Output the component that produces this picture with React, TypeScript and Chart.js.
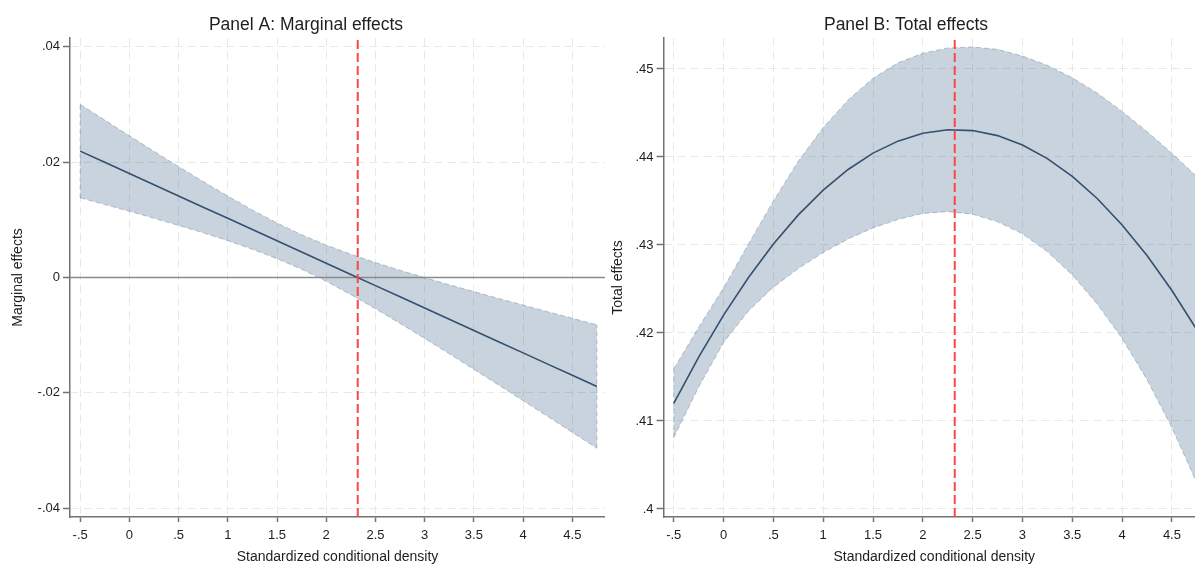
import React, { useEffect, useRef } from "react";
import { Chart, registerables } from "chart.js";

Chart.register(...registerables);

// ---------- data ----------
const xGrid = [
  -0.5, -0.25, 0, 0.25, 0.5, 0.75, 1, 1.25, 1.5, 1.75, 2, 2.25, 2.5, 2.75, 3,
  3.25, 3.5, 3.75, 4, 4.25, 4.5, 4.75,
];

const marginalCenter = [
  0.0219, 0.01996, 0.01802, 0.01607, 0.01413, 0.01219, 0.01025, 0.0083,
  0.00636, 0.00442, 0.00248, 0.00053, -0.00141, -0.00335, -0.00529, -0.00724,
  -0.00918, -0.01112, -0.01306, -0.01501, -0.01695, -0.01889,
];
const marginalUpper = [
  0.03, 0.02728, 0.02457, 0.02188, 0.01924, 0.01664, 0.01412, 0.0117, 0.00945,
  0.00742, 0.00563, 0.00403, 0.00259, 0.00125, -0.00002, -0.00125, -0.00244,
  -0.00362, -0.00477, -0.00593, -0.00706, -0.00819,
];
const marginalLower = [
  0.0138, 0.01264, 0.01147, 0.01026, 0.00902, 0.00774, 0.00638, 0.0049,
  0.00327, 0.00142, -0.00067, -0.00297, -0.00541, -0.00795, -0.01056,
  -0.01323, -0.01592, -0.01862, -0.02135, -0.02409, -0.02684, -0.02959,
];

const totalCenter = [
  0.41201, 0.41726, 0.42203, 0.42631, 0.43011, 0.43342, 0.43624, 0.43858,
  0.44044, 0.4418, 0.44269, 0.44309, 0.443, 0.44243, 0.44137, 0.43982,
  0.4378, 0.43528, 0.43228, 0.4288, 0.42483, 0.42037,
];
const totalUpper = [
  0.41591, 0.42066, 0.42513, 0.43011, 0.43501, 0.43952, 0.44334, 0.44648,
  0.44894, 0.4507, 0.45179, 0.45239, 0.4525, 0.45223, 0.45147, 0.45042, 0.449,
  0.44728, 0.44518, 0.4429, 0.44043, 0.43777,
];
const totalLower = [
  0.40811, 0.41386, 0.41893, 0.42251, 0.42521, 0.42732, 0.42914, 0.43068,
  0.43194, 0.4329, 0.43359, 0.43379, 0.4335, 0.43263, 0.43127, 0.42922,
  0.4266, 0.42328, 0.41938, 0.4147, 0.40923, 0.40297,
];

const xTickValues = [-0.5, 0, 0.5, 1, 1.5, 2, 2.5, 3, 3.5, 4, 4.5];
const xTickLabels = ["-.5", "0", ".5", "1", "1.5", "2", "2.5", "3", "3.5", "4", "4.5"];

const yTickValuesA = [-0.04, -0.02, 0, 0.02, 0.04];
const yTickLabelsA = ["-.04", "-.02", "0", ".02", ".04"];
const yTickValuesB = [0.4, 0.41, 0.42, 0.43, 0.44, 0.45];
const yTickLabelsB = [".4", ".41", ".42", ".43", ".44", ".45"];

const xRange = [-0.603, 4.832];
const yRangeA = [-0.0415, 0.0415];
const yRangeB = [0.39909, 0.45352];

const cutoff = 2.32;
const zeroRef = 0;

// ---------- styles ----------
const FONT = "'Liberation Sans', Arial, Helvetica, sans-serif";
const TEXT = "#1e1e1e";
const AXIS = "#727272";
const GRID = "#e8e8e8";
const BAND_FILL = "rgba(26,71,111,0.24)";
const BAND_EDGE = "rgba(26,71,111,0.28)";
const LINE = "#34506e";
const RED = "#ff4545";

type PanelProps = {
  left: number;
  yAxisWidth: number;
  title: string;
  yTitle: string;
  center: number[];
  upper: number[];
  lower: number[];
  yTicks: number[];
  yLabels: string[];
  yRange: number[];
  showZero: boolean;
};

function Panel(p: PanelProps) {
  const ref = useRef<HTMLCanvasElement | null>(null);

  useEffect(() => {
    if (!ref.current) return;
    const pts = (arr: number[]) => xGrid.map((x, i) => ({ x, y: arr[i] }));
    const last = xGrid.length - 1;
    const edge = {
      borderColor: BAND_EDGE,
      borderWidth: 1,
      borderDash: [5, 3],
      pointRadius: 0,
      fill: false,
    };
    const datasets: any[] = [
      { ...edge, data: pts(p.lower), order: 5 },
      {
        ...edge,
        data: pts(p.upper),
        fill: "-1",
        backgroundColor: BAND_FILL,
        order: 4,
      },
      {
        ...edge,
        data: [
          { x: xGrid[0], y: p.lower[0] },
          { x: xGrid[0], y: p.upper[0] },
        ],
        order: 4,
      },
      {
        ...edge,
        data: [
          { x: xGrid[last], y: p.lower[last] },
          { x: xGrid[last], y: p.upper[last] },
        ],
        order: 4,
      },
      {
        data: pts(p.center),
        borderColor: LINE,
        borderWidth: 1.6,
        pointRadius: 0,
        fill: false,
        order: 2,
      },
      {
        data: [
          { x: cutoff, y: p.yRange[0] },
          { x: cutoff, y: p.yRange[1] },
        ],
        borderColor: RED,
        borderWidth: 2,
        borderDash: [9, 4],
        pointRadius: 0,
        fill: false,
        order: 1,
      },
    ];
    if (p.showZero) {
      datasets.push({
        data: [
          { x: xRange[0], y: zeroRef },
          { x: xRange[1], y: zeroRef },
        ],
        borderColor: "#8a8a8a",
        borderWidth: 1.5,
        pointRadius: 0,
        fill: false,
        order: 3,
      });
    }

    const chart = new Chart(ref.current, {
      type: "line",
      data: { datasets },
      options: {
        animation: false,
        responsive: false,
        devicePixelRatio: 1,
        layout: { padding: 0 },
        plugins: {
          legend: { display: false },
          tooltip: { enabled: false },
          filler: { drawTime: "beforeDatasetsDraw" },
          title: {
            display: true,
            text: p.title,
            color: TEXT,
            font: { family: FONT, size: 17.5, weight: "normal" },
            padding: { top: 14.5, bottom: 2.5 },
          },
        },
        scales: {
          x: {
            type: "linear",
            min: xRange[0],
            max: xRange[1],
            afterBuildTicks: (s: any) => {
              s.ticks = xTickValues.map((v) => ({ value: v }));
            },
            afterFit: (s: any) => {
              s.height = 49;
            },
            ticks: {
              autoSkip: false,
              maxRotation: 0,
              padding: 5.5,
              color: TEXT,
              font: { family: FONT, size: 13 },
              callback: (_v: any, i: number) => xTickLabels[i],
            },
            grid: {
              color: GRID,
              lineWidth: 1,
              drawTicks: true,
              tickLength: 5,
              tickColor: AXIS,
              tickWidth: 1.5,
              tickBorderDash: [],
            },
            border: { display: true, color: AXIS, width: 1.5, dash: [8, 5] },
            title: {
              display: true,
              text: "Standardized conditional density",
              color: TEXT,
              font: { family: FONT, size: 14 },
              padding: { top: 0, bottom: 0 },
            },
          },
          y: {
            type: "linear",
            min: p.yRange[0],
            max: p.yRange[1],
            afterBuildTicks: (s: any) => {
              s.ticks = p.yTicks.map((v) => ({ value: v }));
            },
            afterFit: (s: any) => {
              s.width = p.yAxisWidth;
            },
            ticks: {
              autoSkip: false,
              padding: 3,
              color: TEXT,
              font: { family: FONT, size: 13 },
              callback: (_v: any, i: number) => p.yLabels[i],
            },
            grid: {
              color: GRID,
              lineWidth: 1,
              drawTicks: true,
              tickLength: 7,
              tickColor: AXIS,
              tickWidth: 1.5,
              tickBorderDash: [],
            },
            border: { display: true, color: AXIS, width: 1.5, dash: [8, 5] },
            title: {
              display: true,
              text: p.yTitle,
              color: TEXT,
              font: { family: FONT, size: 14 },
              padding: { top: 3, bottom: 0 },
            },
          },
        },
      } as any,
    });
    return () => chart.destroy();
  }, []);

  return (
    <canvas
      ref={ref}
      width={598}
      height={566}
      style={{ position: "absolute", left: p.left, top: 0, width: 598, height: 566 }}
    />
  );
}

export default function App() {
  return (
    <div
      style={{
        position: "fixed",
        left: 0,
        top: 0,
        width: 1195,
        height: 564,
        overflow: "hidden",
        background: "#ffffff",
      }}
    >
      <Panel
        left={7}
        yAxisWidth={63}
        title="Panel A: Marginal effects"
        yTitle="Marginal effects"
        center={marginalCenter}
        upper={marginalUpper}
        lower={marginalLower}
        yTicks={yTickValuesA}
        yLabels={yTickLabelsA}
        yRange={yRangeA}
        showZero={true}
      />
      <Panel
        left={607}
        yAxisWidth={56.5}
        title="Panel B: Total effects"
        yTitle="Total effects"
        center={totalCenter}
        upper={totalUpper}
        lower={totalLower}
        yTicks={yTickValuesB}
        yLabels={yTickLabelsB}
        yRange={yRangeB}
        showZero={false}
      />
    </div>
  );
}
